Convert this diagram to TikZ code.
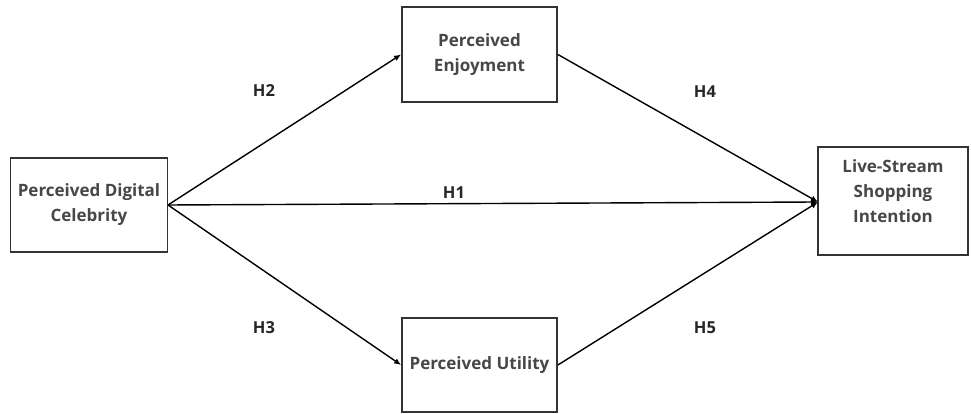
\documentclass[tikz,border=0pt]{standalone}
\usepackage{fontspec}
\setmainfont{Open Sans}
\usetikzlibrary{arrows.meta}
\begin{document}
\begin{tikzpicture}[x=1pt,y=1pt,
  boxtext/.style={align=center,inner sep=0pt,
    font=\fontsize{17}{25}\selectfont\bfseries,text=black!72},
  box/.style={draw=black!80,line width=1.8pt,fill=white,boxtext},
  conn/.style={line width=1.4pt,-{Latex[length=7pt,width=6pt]}},
  hlab/.style={font=\fontsize{16.5}{18}\selectfont\bfseries,text=black!85}]
\useasboundingbox (0,0) rectangle (971,414);
\node[box,minimum width=157pt,minimum height=94pt] (pdc) at (89,209) {Perceived Digital\\Celebrity};
\node[box,minimum width=155pt,minimum height=95pt] (pe) at (479.5,359.5) {Perceived\\Enjoyment};
\node[box,minimum width=155pt,minimum height=94pt] (pu) at (479.5,49) {Perceived Utility};
\node[box,minimum width=150pt,minimum height=108pt] (lsi) at (893,213) {};
\node[boxtext] (lsit) at (893,223) {Live-Stream\\Shopping\\Intention};
\coordinate (s) at (168,209);
\coordinate (t) at (818,212);
\draw[conn] (s) -- (pe.west);
\draw[conn] (s) -- (pu.west);
\draw[conn] (s) -- (t);
\draw[conn] (pe.east) -- (t);
\draw[conn] (pu.east) -- (t);
\node[hlab] (h2) at (264,323) {H2};
\node[hlab] (h4) at (705,322) {H4};
\node[hlab] (h1) at (454,221) {H1};
\node[hlab] (h3) at (264,86) {H3};
\node[hlab] (h5) at (705,86) {H5};
\end{tikzpicture}
\end{document}
